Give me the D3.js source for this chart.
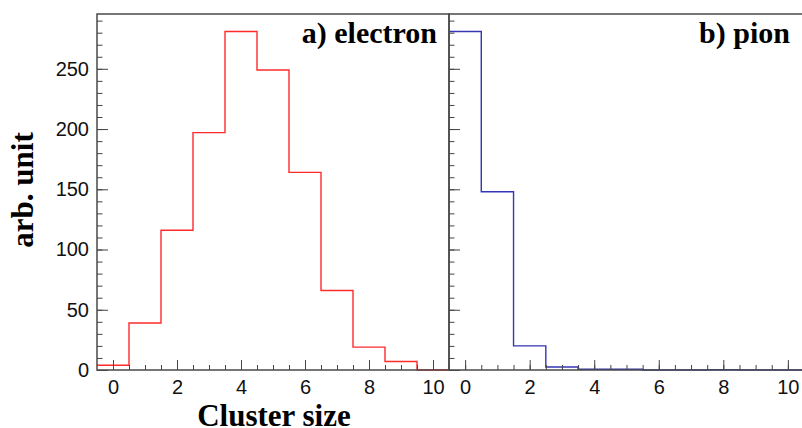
<!DOCTYPE html>
<html>
<head>
<meta charset="utf-8">
<script src="https://cdn.jsdelivr.net/npm/d3@7"></script>
<style>
  body { margin: 0; background: #fff; }
  .tick text { font-family: "Liberation Sans", Arial, sans-serif; fill: #111; }
  .tick line { stroke: #444; }
</style>
</head>
<body>
<div id="chart"></div>
<script>
// histogram contents, one value per cluster-size bin
var clusterSizes = [0, 1, 2, 3, 4, 5, 6, 7, 8, 9, 10];
var electronCounts = [4, 39, 116, 197, 281, 249, 164, 66, 19, 7, 0];
var pionCounts = [281, 148, 20, 2.5, 0.6, 0.6, 0, 0, 0.2, 0, 0];
var yTickValues = [0, 50, 100, 150, 200, 250];
var xTickValues = [0, 2, 4, 6, 8, 10];

var svgWidth = 802;
var svgHeight = 428;

var svg = d3.select("#chart")
    .append("svg")
    .attr("width", svgWidth)
    .attr("height", svgHeight);

var plotTop = 14, plotBottom = 370;

var y = d3.scaleLinear().domain([0, 295.5]).range([plotBottom, plotTop]);

// two panels side by side, the second one runs off the right edge
var panels = [
    { x0: 97, x1: 449, data: electronCounts, color: "#ff2a2a", title: "a) electron", titleX: 437, yLabels: true },
    { x0: 449, x1: 804, data: pionCounts, color: "#3535b5", title: "b) pion", titleX: 790, yLabels: false }
];

panels.forEach(function (p) {
    var x = d3.scaleLinear().domain([-0.5, 10.5]).range([p.x0, p.x1]);
    var g = svg.append("g");

    // step outline of the histogram
    var pts = p.data.map(function (v, i) { return [clusterSizes[i] - 0.5, v]; });
    pts.push([10.5, p.data[p.data.length - 1]]);
    var line = d3.line()
        .x(d => x(d[0]))
        .y(d => y(d[1]))
        .curve(d3.curveStepAfter);
    g.append("path")
        .attr("d", line(pts))
        .attr("fill", "none")
        .attr("stroke", p.color)
        .attr("stroke-width", 1.4);

    // minor x ticks every 0.5
    g.append("g")
        .attr("transform", `translate(0, ${plotBottom})`)
        .call(d3.axisBottom(x).tickValues(d3.range(0, 10.51, 0.5)).tickSize(-5).tickFormat(""))
        .call(a => a.select(".domain").remove());
    // major x ticks
    g.append("g")
        .attr("transform", `translate(0, ${plotBottom})`)
        .call(d3.axisBottom(x).tickValues(xTickValues).tickSize(-10).tickPadding(10).tickFormat(d3.format("d")))
        .call(a => a.select(".domain").remove())
        .selectAll("text").style("font-size", "20px");

    // minor y ticks every 10
    g.append("g")
        .attr("transform", `translate(${p.x0}, 0)`)
        .call(d3.axisLeft(y).tickValues(d3.range(0, 291, 10)).tickSize(-5.5).tickFormat(""))
        .call(a => a.select(".domain").remove());
    var yMajor = g.append("g")
        .attr("transform", `translate(${p.x0}, 0)`)
        .call(d3.axisLeft(y).tickValues(yTickValues).tickSize(-11).tickPadding(8)
            .tickFormat(p.yLabels ? d3.format("d") : ""))
        .call(a => a.select(".domain").remove());
    yMajor.selectAll("text").style("font-size", "20px");

    // frame
    g.append("rect")
        .attr("x", p.x0)
        .attr("y", plotTop)
        .attr("width", p.x1 - p.x0)
        .attr("height", plotBottom - plotTop)
        .attr("fill", "none")
        .attr("stroke", "#4a4a4a")
        .attr("stroke-width", 1.5);

    g.append("text")
        .attr("x", p.titleX)
        .attr("y", 43)
        .attr("text-anchor", "end")
        .style("font-family", "'Liberation Serif', 'Times New Roman', serif")
        .style("font-weight", "bold")
        .style("font-size", "30px")
        .text(p.title);
});

// axis titles
svg.append("text")
    .attr("x", 274)
    .attr("y", 426)
    .attr("text-anchor", "middle")
    .style("font-family", "'Liberation Serif', 'Times New Roman', serif")
    .style("font-weight", "bold")
    .style("font-size", "31px")
    .text("Cluster size");

svg.append("text")
    .attr("transform", "translate(33, 190) rotate(-90)")
    .attr("text-anchor", "middle")
    .style("font-family", "'Liberation Serif', 'Times New Roman', serif")
    .style("font-weight", "bold")
    .style("font-size", "31px")
    .text("arb. unit");
</script>
</body>
</html>
